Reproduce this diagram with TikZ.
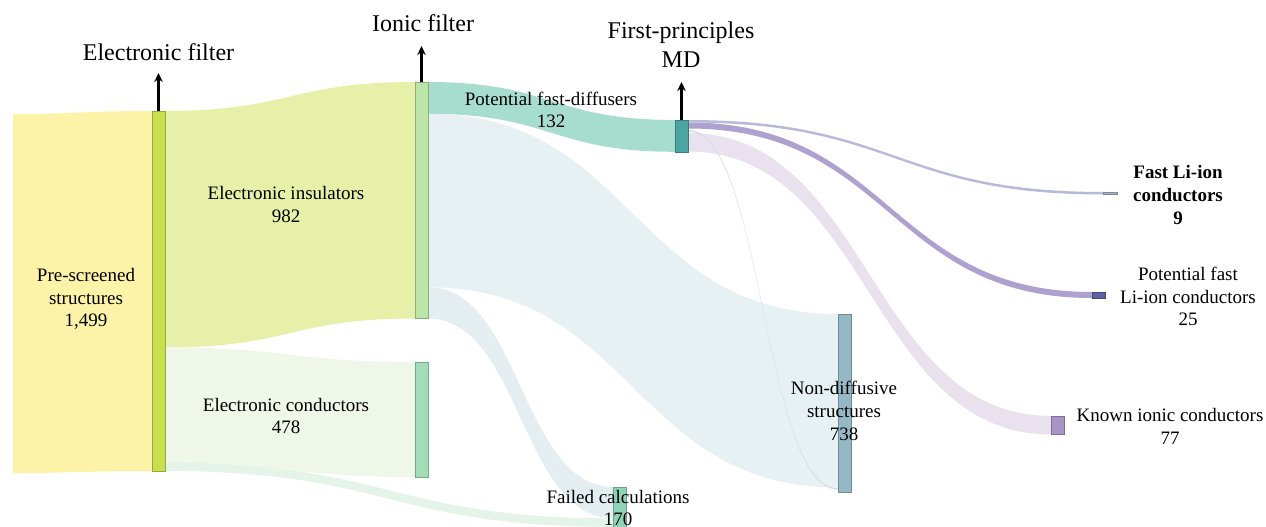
\documentclass[tikz,border=0pt]{standalone}
\usepackage{fontspec}
\setmainfont{Liberation Serif}
\usetikzlibrary{calc,arrows.meta}

% Colours of bands and bars
\definecolor{srcyellow}{HTML}{FCF3A9}
\definecolor{efbar}{HTML}{C8E04E}
\definecolor{insflow}{HTML}{E6F0A8}
\definecolor{condflow}{HTML}{EFF7E8}
\definecolor{failgreen}{HTML}{E4F4E9}
\definecolor{iflbar}{HTML}{BDE5A8}
\definecolor{condbar}{HTML}{A2DDB8}
\definecolor{diffflow}{HTML}{A7DDCF}
\definecolor{mdbar}{HTML}{4CA5A3}
\definecolor{ndflow}{HTML}{E7F0F2}
\definecolor{failblue}{HTML}{E4EDEF}
\definecolor{failbar}{HTML}{90D4B8}
\definecolor{ndbar}{HTML}{94B9C5}
\definecolor{fastflow}{HTML}{B6B9DB}
\definecolor{fastbar}{HTML}{A3B8CC}
\definecolor{potflow}{HTML}{AEA1CF}
\definecolor{potbar}{HTML}{5E60A2}
\definecolor{knownflow}{HTML}{E9E1ED}
\definecolor{knownbar}{HTML}{A895C6}
\definecolor{thinflow}{HTML}{D3DEE4}

% Band between two bars: style, from bar, offset, to bar, offset, width
\newcommand{\sankeyband}[6]{%
  \path ($(#2.north east)+(0,#3)$) coordinate (b0)
        ($(#4.north west)+(0,#5)$) coordinate (b1)
        ($(b0)!0.5!(b1)$) coordinate (bm)
        ($(b0)+(0,#6)$) coordinate (c0)
        ($(b1)+(0,#6)$) coordinate (c1);
  \fill[#1] (b0) .. controls (bm |- b0) and (bm |- b1) .. (b1)
    -- (c1) .. controls (bm |- c1) and (bm |- c0) .. (c0) -- cycle;}

\begin{document}
\begin{tikzpicture}[x=1pt,y=-1pt]
	% Define styles for bars, labels and filter arrows
	\tikzset{
		bar/.style={draw=#1!75!black, fill=#1, rectangle, inner sep=0pt, outer sep=0pt, minimum width=13pt, line width=0.6pt},
		lbl/.style={font=\fontsize{19}{22.8}\selectfont, align=center, inner sep=0pt},
		hdr/.style={font=\fontsize{24}{29}\selectfont, align=center, inner sep=0pt},
		filt/.style={-{Stealth[length=9pt,width=8.5pt]}, line width=2.2pt}
	}
	\path[use as bounding box, fill=white] (0,0) rectangle (1266,527);
	
	% Draw the bars
	\node[bar=efbar, minimum height=360pt] (ef) at (158.5,291) {};
	\node[bar=iflbar, minimum height=236.5pt] (ifl) at (421.5,200.25) {};
	\node[bar=condbar, minimum height=115pt] (econd) at (421.5,419.5) {};
	\node[bar=mdbar, minimum height=31.8pt] (md) at (681.5,135.9) {};
	\node[bar=failbar, minimum height=41pt] (fail) at (620,507.5) {};
	\node[bar=ndbar, minimum height=178pt] (nd) at (844.5,403) {};
	\node[bar=fastbar, minimum height=2.5pt, minimum width=14pt] (fast) at (1110,193.2) {};
	\node[bar=potbar, minimum height=6pt] (pot) at (1098.5,295) {};
	\node[bar=knownbar, minimum height=18.5pt] (known) at (1057.5,425.25) {};
	
	% Draw the bands
	\coordinate (srctop) at (13,114);
	\coordinate (srcbot) at (13,473);
	\fill[srcyellow] (srctop) .. controls (82,114) and (82,111) .. (ef.north west)
		-- (ef.south west) .. controls (82,471) and (82,473) .. (srcbot) -- cycle;
	\sankeyband{insflow}{ef}{0}{ifl}{0}{236.5}
	\sankeyband{condflow}{ef}{236.5}{econd}{0}{115}
	\sankeyband{failgreen}{ef}{351.5}{fail}{31.3}{8.5}
	\sankeyband{diffflow}{ifl}{0}{md}{0}{31.8}
	\sankeyband{ndflow}{ifl}{31.8}{nd}{0}{173.4}
	\sankeyband{failblue}{ifl}{205.2}{fail}{0}{31.3}
	\sankeyband{knownflow}{md}{13}{known}{0}{18.5}
	\sankeyband{thinflow}{md}{10}{nd}{174}{1.5}
	\sankeyband{potflow}{md}{2.5}{pot}{0}{6}
	\sankeyband{fastflow}{md}{0}{fast}{0}{2.5}
	
	% Redraw the bars on top of the bands
	\foreach \b/\c in {ef/efbar, ifl/iflbar, econd/condbar, md/mdbar, fail/failbar, nd/ndbar, fast/fastbar, pot/potbar, known/knownbar}
		\draw[draw=\c!75!black, fill=\c, line width=0.6pt] (\b.north west) rectangle (\b.south east);
	
	% Draw the filter arrows
	\coordinate (efup) at (158.5,73);
	\coordinate (iflup) at (421.5,46);
	\coordinate (mdup) at (681.5,82);
	\draw[filt] (ef.north) -- (efup);
	\draw[filt] (ifl.north) -- (iflup);
	\draw[filt] (md.north) -- (mdup);
	
	% Add headers
	\node[hdr, anchor=base] (hef) at (158.5,60) {Electronic filter};
	\node[hdr, anchor=base] (hifl) at (423,32) {Ionic filter};
	\node[hdr] (hmd) at (681,44.5) {First-principles\\MD};
	
	% Add labels
	\node[lbl] (tpre) at (86,299) {Pre-screened\\structures\\1,499};
	\node[lbl] (tins) at (286,204.5) {Electronic insulators\\982};
	\node[lbl] (tcond) at (286,416) {Electronic conductors\\478};
	\node[lbl] (tdiff) at (551,110) {Potential fast-diffusers\\132};
	\node[lbl] (tfail) at (618,508) {Failed calculations\\170};
	\node[lbl] (tnd) at (844,411) {Non-diffusive\\structures\\738};
	\node[lbl, font=\fontsize{19}{22.8}\selectfont\bfseries] (tfast) at (1178,195) {Fast Li-ion\\conductors\\9};
	\node[lbl] (tpot) at (1188,296.5) {Potential fast\\Li-ion conductors\\25};
	\node[lbl] (tknown) at (1170,426.5) {Known ionic conductors\\77};
\end{tikzpicture}
\end{document}
